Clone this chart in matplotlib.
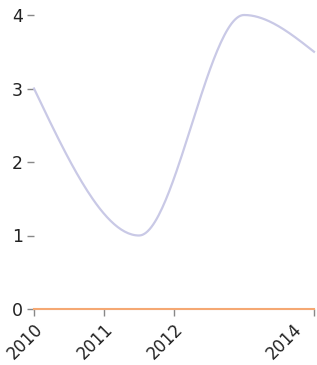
import numpy as np
import matplotlib
matplotlib.use("Agg")
import matplotlib.pyplot as plt

years = [2010.0, 2011.5, 2013.0, 2014.0]
values = [3.0, 1.0, 4.0, 3.5]
baseline = [0.0, 0.0, 0.0, 0.0]
tick_years = [2010, 2011, 2012, 2014]
yticks = [0, 1, 2, 3, 4]

LAVENDER = "#c9c9e6"
ORANGE = "#f5a873"
INK = "#222222"


def monotone(x, y, n=60):
    """Monotone cubic (d3 curveMonotoneX style) sampled for plotting."""
    x = np.asarray(x, float)
    y = np.asarray(y, float)
    h = np.diff(x)
    s = np.diff(y) / h
    t = np.zeros_like(y)
    for i in range(1, len(x) - 1):
        p = (s[i - 1] * h[i] + s[i] * h[i - 1]) / (h[i - 1] + h[i])
        t[i] = (np.sign(s[i - 1]) + np.sign(s[i])) * min(abs(s[i - 1]), abs(s[i]), 0.5 * abs(p))
    t[0] = (3 * s[0] - t[1]) / 2
    t[-1] = (3 * s[-1] - t[-2]) / 2
    xs, ys = [], []
    for i in range(len(x) - 1):
        u = np.linspace(0, 1, n)
        h00 = 2 * u**3 - 3 * u**2 + 1
        h10 = u**3 - 2 * u**2 + u
        h01 = -2 * u**3 + 3 * u**2
        h11 = u**3 - u**2
        xs.append(x[i] + u * h[i])
        ys.append(h00 * y[i] + h10 * h[i] * t[i] + h01 * y[i + 1] + h11 * h[i] * t[i + 1])
    return np.concatenate(xs), np.concatenate(ys)


fig = plt.figure(figsize=(3.17, 3.65), dpi=100)
ax = fig.add_axes([34 / 317, 56 / 365, 280 / 317, 294 / 365])

cx, cy = monotone(years, values)
ax.plot(cx, cy, color=LAVENDER, lw=1.6, clip_on=False)
bx, by = monotone(years, baseline)
ax.plot(bx, by, color=ORANGE, lw=1.5, clip_on=False, zorder=3)

ax.set_xlim(2010, 2014)
ax.set_ylim(0, 4)
ax.set_xticks(tick_years)
labels = [str(v) for v in tick_years]
ax.set_xticklabels(labels[:-1] + [""], rotation=45, ha="right",
                   rotation_mode="anchor", fontsize=12, color=INK)
# last label is pulled back inside the figure, as in the original
ax.annotate(labels[-1], xy=(tick_years[-1], 0), xycoords=("data", "axes fraction"),
            xytext=(-15, -8), textcoords="offset points", rotation=45,
            ha="right", va="top", rotation_mode="anchor", fontsize=12, color=INK,
            annotation_clip=False)
ax.set_yticks(yticks)
ax.set_yticklabels([str(v) for v in yticks], fontsize=12.5, color=INK)
ax.tick_params(axis="x", length=5, width=1, color="#888888", pad=3)
ax.tick_params(axis="y", length=5, width=1, color="#888888", pad=3)
for side in ("top", "right", "left"):
    ax.spines[side].set_visible(False)
ax.spines["bottom"].set_color("#dddddd")

fig.savefig("out.png", dpi=100, facecolor="white")
